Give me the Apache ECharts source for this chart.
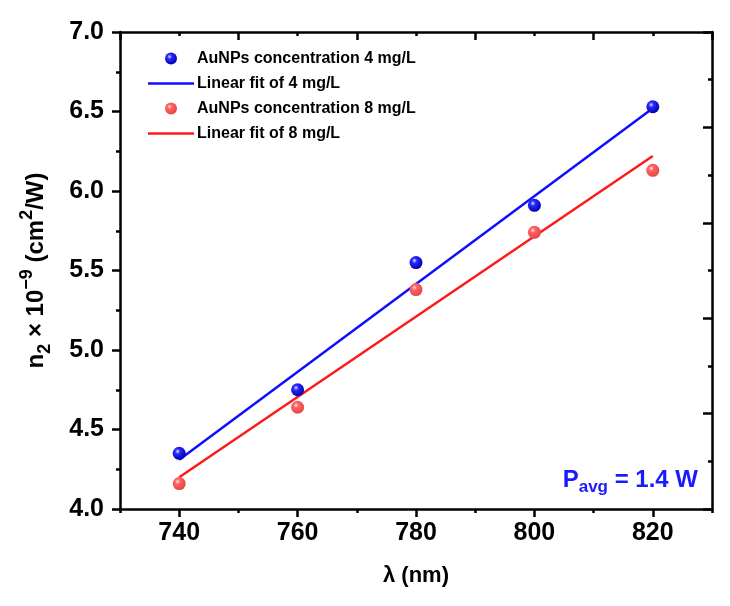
<!DOCTYPE html>
<html>
<head>
<meta charset="utf-8">
<script src="https://cdn.jsdelivr.net/npm/echarts@6/dist/echarts.min.js"></script>
<style>html,body{margin:0;padding:0;background:#fff;}#c{width:730px;height:606px;}</style>
</head>
<body>
<div id="c"></div>
<script>
var wavelengths = [740, 760, 780, 800, 820];
var n2_4mgL = [4.35, 4.75, 5.55, 5.91, 6.53];
var n2_8mgL = [4.16, 4.64, 5.38, 5.74, 6.13];
var fitX = [740, 820];
var fit_4mgL = [4.31, 6.52];
var fit_8mgL = [4.20, 6.22];
var xTickLabels = [740, 760, 780, 800, 820];
var seriesNames = ['AuNPs concentration 4 mg/L', 'Linear fit of 4 mg/L', 'AuNPs concentration 8 mg/L', 'Linear fit of 8 mg/L'];

function pairs(xs, ys) { return xs.map(function (x, i) { return [x, ys[i]]; }); }

var FONT = '"Liberation Sans", Arial, sans-serif';
var gridRect = { left: 120, right: 18, top: 32, bottom: 97 };
var blueBall = new echarts.graphic.RadialGradient(0.38, 0.35, 0.65, [
  { offset: 0, color: '#e0e0ff' }, { offset: 0.3, color: '#2a2aff' }, { offset: 1, color: '#0000b0' }]);
var redBall = new echarts.graphic.RadialGradient(0.38, 0.35, 0.65, [
  { offset: 0, color: '#ffe4e4' }, { offset: 0.3, color: '#ff6464' }, { offset: 1, color: '#e84444' }]);
var axisLine = { show: true, onZero: false, lineStyle: { color: '#000', width: 2.5 } };
var lineIcon = 'path://M0 0H46V2.5H0Z';

var chart = echarts.init(document.getElementById('c'), null, { renderer: 'canvas' });
chart.setOption({
  animation: false,
  backgroundColor: '#fff',
  grid: [Object.assign({}, gridRect), Object.assign({}, gridRect)],
  xAxis: [
    { gridIndex: 0, type: 'value', position: 'bottom', min: 730, max: 830,
      axisLine: axisLine,
      axisTick: { show: true, customValues: xTickLabels, length: 8, lineStyle: { color: '#000', width: 2.5 } },
      axisLabel: { customValues: xTickLabels, color: '#000', fontFamily: FONT, fontWeight: 'bold', fontSize: 25, margin: 12 },
      splitLine: { show: false },
      name: 'λ (nm)', nameLocation: 'middle', nameGap: 56,
      nameTextStyle: { color: '#000', fontFamily: FONT, fontWeight: 'bold', fontSize: 22 } },
    { gridIndex: 0, type: 'value', position: 'top', min: 730, max: 830, interval: 20,
      axisLine: axisLine,
      axisTick: { show: true, inside: true, length: 8, lineStyle: { color: '#000', width: 2.5 } },
      minorTick: { show: true, splitNumber: 2, length: 4, lineStyle: { color: '#000', width: 2.5 } },
      axisLabel: { show: false }, splitLine: { show: false } },
    { gridIndex: 1, type: 'value', position: 'bottom', min: 730, max: 830, interval: 10,
      axisLine: { show: false },
      axisTick: { show: true, length: 4, lineStyle: { color: '#000', width: 2.5 } },
      axisLabel: { show: false }, splitLine: { show: false } }
  ],
  yAxis: [
    { gridIndex: 0, type: 'value', position: 'left', min: 4, max: 7, interval: 0.5,
      axisLine: axisLine,
      axisTick: { show: true, length: 8, lineStyle: { color: '#000', width: 2.5 } },
      minorTick: { show: true, splitNumber: 2, length: 4, lineStyle: { color: '#000', width: 2.5 } },
      axisLabel: { color: '#000', fontFamily: FONT, fontWeight: 'bold', fontSize: 25, margin: 16,
        formatter: function (v) { return v.toFixed(1); } },
      splitLine: { show: false },
      name: '{t|n}{sub|2}{t| × 10}{sup|−9}{t| (cm}{sup|2}{t|/W)}', nameLocation: 'middle', nameGap: 66, nameRotate: 90,
      nameTextStyle: { color: '#000', fontFamily: FONT, fontWeight: 'bold', fontSize: 24,
        rich: {
          t: { fontFamily: FONT, fontWeight: 'bold', fontSize: 24, color: '#000', lineHeight: 36, verticalAlign: 'middle' },
          sub: { fontFamily: FONT, fontWeight: 'bold', fontSize: 18, color: '#000', lineHeight: 34, verticalAlign: 'bottom' },
          sup: { fontFamily: FONT, fontWeight: 'bold', fontSize: 18, color: '#000', lineHeight: 34, verticalAlign: 'top' }
        } } },
    { gridIndex: 1, type: 'value', position: 'right', min: 0, max: 5, interval: 1,
      axisLine: axisLine,
      axisTick: { show: true, inside: true, length: 9, lineStyle: { color: '#000', width: 2.5 } },
      minorTick: { show: true, splitNumber: 2, length: 4, lineStyle: { color: '#000', width: 2.5 } },
      axisLabel: { show: false }, splitLine: { show: false } }
  ],
  legend: {
    orient: 'vertical', left: 143, top: 45,
    itemWidth: 46, itemHeight: 12, itemGap: 8,
    data: [
      { name: seriesNames[0] },
      { name: seriesNames[1], icon: lineIcon },
      { name: seriesNames[2] },
      { name: seriesNames[3], icon: lineIcon }
    ],
    textStyle: { color: '#000', fontFamily: FONT, fontWeight: 'bold', fontSize: 16, lineHeight: 17, padding: [0, 0, 0, -2] }
  },
  series: [
    { name: seriesNames[1], type: 'line', xAxisIndex: 0, yAxisIndex: 0, data: pairs(fitX, fit_4mgL),
      symbol: 'none', showSymbol: false, lineStyle: { color: '#0f0fff', width: 2.5 }, itemStyle: { color: '#0f0fff' }, z: 2 },
    { name: seriesNames[3], type: 'line', xAxisIndex: 0, yAxisIndex: 0, data: pairs(fitX, fit_8mgL),
      symbol: 'none', showSymbol: false, lineStyle: { color: '#ff1a1a', width: 2.5 }, itemStyle: { color: '#ff1a1a' }, z: 2 },
    { name: seriesNames[0], type: 'scatter', xAxisIndex: 0, yAxisIndex: 0, data: pairs(wavelengths, n2_4mgL),
      symbol: 'circle', symbolSize: 13, itemStyle: { color: blueBall, opacity: 1 }, z: 3 },
    { name: seriesNames[2], type: 'scatter', xAxisIndex: 0, yAxisIndex: 0, data: pairs(wavelengths, n2_8mgL),
      symbol: 'circle', symbolSize: 13, itemStyle: { color: redBall, opacity: 1 }, z: 3 }
  ],
  graphic: [
    { type: 'text', right: 32, top: 468, z: 10,
      style: { text: '{p|P}{s|avg}{p| = 1.4 W}', fill: '#1a1aff',
        rich: {
          p: { fontFamily: FONT, fontWeight: 'bold', fontSize: 24, fill: '#1a1aff', lineHeight: 32, verticalAlign: 'middle' },
          s: { fontFamily: FONT, fontWeight: 'bold', fontSize: 17, fill: '#1a1aff', lineHeight: 32, verticalAlign: 'bottom' }
        } } }
  ]
});
</script>
</body>
</html>
